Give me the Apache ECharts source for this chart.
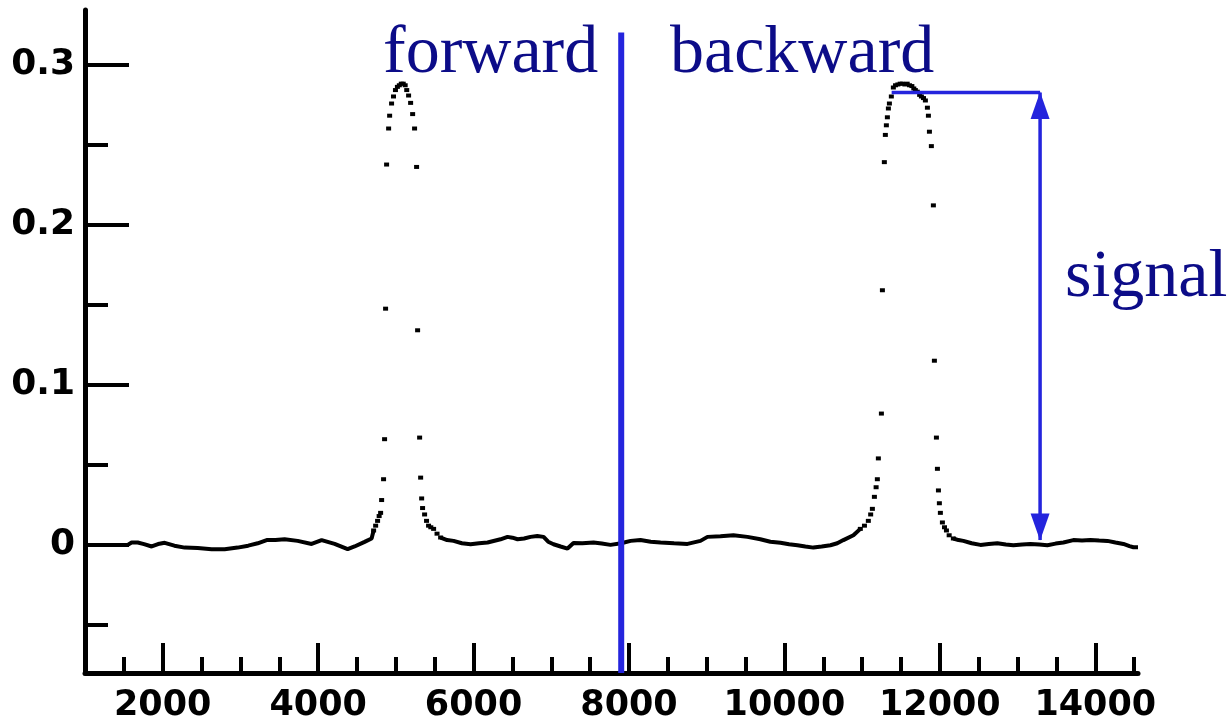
<!DOCTYPE html>
<html style="height: 100%">
    <head>
        <title>forward / backward scan</title>
        <meta charset="utf-8">
    </head>
    <body style="height: 100%; margin: 0; background: #fff">
        <div id="container" style="height: 100%"></div>

        <script type="text/javascript" src="https://cdn.jsdelivr.net/npm/echarts@6.0.0/dist/echarts.min.js"></script>
        <script type="text/javascript">
            // tick positions
            var xMajorTicks = [2000, 4000, 6000, 8000, 10000, 12000, 14000];
            var xMinorTicks = [1500, 2500, 3000, 3500, 4500, 5000, 5500, 6500, 7000, 7500, 8500, 9000, 9500,
                10500, 11000, 11500, 12500, 13000, 13500, 14500];
            var yMajorTicks = [0, 0.1, 0.2, 0.3];
            var yMinorTicks = [-0.05, 0.05, 0.15, 0.25];

            // baseline stretches (dense, drawn as a jagged line)
            var base1 = [[1000, 0], [1550, 0], [1600, 0.0015], [1678, 0.0015], [1760, 0.0005], [1858, -0.001],
                [1940, 0.0005], [2026, 0.0013], [2150, -0.0005], [2283, -0.0017], [2450, -0.002], [2630, -0.0027],
                [2797, -0.0027], [2964, -0.0017], [3100, -0.0005], [3222, 0.001], [3338, 0.003], [3450, 0.003],
                [3569, 0.0035], [3736, 0.0025], [3916, 0.0006], [4045, 0.003], [4212, 0.0006], [4380, -0.0027],
                [4469, -0.001], [4598, 0.0019], [4688, 0.004], [4714, 0.009]];
            var base2 = [[5576, 0.0046], [5660, 0.003], [5743, 0.0025], [5850, 0.001], [5962, 0.0004], [6070, 0.001],
                [6180, 0.0015], [6347, 0.0035], [6437, 0.005], [6500, 0.0045], [6566, 0.0035], [6650, 0.004],
                [6733, 0.005], [6820, 0.0055], [6901, 0.005], [6960, 0.002], [7029, 0.0004], [7120, -0.001],
                [7209, -0.0023], [7286, 0.0012], [7400, 0.001], [7544, 0.0015], [7650, 0.0008], [7762, 0],
                [7900, 0.001], [8020, 0.0025], [8148, 0.003], [8280, 0.002], [8406, 0.0015], [8580, 0.001],
                [8753, 0.0006], [8920, 0.0025], [9010, 0.005], [9177, 0.0054], [9344, 0.006], [9524, 0.005],
                [9691, 0.0035], [9820, 0.002], [9949, 0.0013], [10060, 0.0004], [10167, -0.0002], [10270, -0.001],
                [10373, -0.0017], [10480, -0.001], [10592, -0.0002], [10680, 0.001], [10759, 0.003], [10888, 0.006],
                [10977, 0.01]];
            var base3 = [[12174, 0.004], [12240, 0.003], [12303, 0.0025], [12410, 0.001], [12522, 0], [12630, 0.0005],
                [12740, 0.001], [12850, 0.0002], [12946, -0.0002], [13060, 0.0003], [13165, 0.0006], [13280, 0.0002],
                [13384, -0.0002], [13490, 0.0008], [13590, 0.0015], [13718, 0.003], [13830, 0.0028], [13937, 0.003],
                [14050, 0.0027], [14156, 0.0025], [14260, 0.0015], [14362, 0.0006], [14440, -0.0008],
                [14491, -0.0015], [14550, -0.0015]];

            // peaks (sparse points)
            var peak1 = [[4714, 0.009], [4740, 0.012], [4765, 0.015], [4785, 0.018], [4804, 0.02], [4817, 0.028],
                [4842, 0.041], [4855, 0.066], [4868, 0.1475], [4881, 0.2375], [4907, 0.26], [4920, 0.268],
                [4945, 0.2756], [4970, 0.28], [4995, 0.284], [5020, 0.286], [5045, 0.287], [5070, 0.288],
                [5095, 0.288], [5120, 0.287], [5140, 0.284], [5164, 0.2806], [5190, 0.276], [5216, 0.269],
                [5241, 0.26], [5267, 0.236], [5280, 0.134], [5306, 0.067], [5319, 0.042], [5332, 0.029],
                [5344, 0.023], [5370, 0.019], [5395, 0.015], [5421, 0.012], [5450, 0.011], [5486, 0.01],
                [5530, 0.007], [5576, 0.0046]];
            var peak2 = [[10977, 0.01], [11030, 0.012], [11080, 0.015], [11110, 0.019], [11132, 0.0225],
                [11158, 0.03], [11180, 0.036], [11196, 0.041], [11209, 0.054], [11248, 0.082], [11261, 0.159],
                [11286, 0.239], [11299, 0.256], [11312, 0.262], [11325, 0.267], [11338, 0.2725], [11351, 0.2756],
                [11376, 0.28], [11402, 0.2856], [11430, 0.287], [11460, 0.2875], [11490, 0.288], [11520, 0.288],
                [11550, 0.2875], [11580, 0.288], [11610, 0.287], [11640, 0.2865], [11665, 0.285], [11685, 0.284],
                [11710, 0.283], [11740, 0.281], [11763, 0.28], [11790, 0.279], [11814, 0.2775], [11840, 0.273],
                [11853, 0.268], [11866, 0.258], [11891, 0.249], [11917, 0.212], [11930, 0.115], [11956, 0.067],
                [11969, 0.0475], [11982, 0.034], [11994, 0.026], [12007, 0.02], [12033, 0.014], [12060, 0.011],
                [12085, 0.009], [12120, 0.006], [12174, 0.004]];

            // annotations
            var dividerLine = [[7900, -0.08], [7900, 0.32]];
            var signalLevel = [[11380, 0.2825], [13290, 0.2825]];
            var signalArrow = [[13290, 0.2825], [13290, 0.003]];

            var blue = '#2424dd';
            var navy = '#0c0c88';
            var labelFont = { fontFamily: 'DejaVu Sans', fontWeight: 'bold', color: '#000' };
            var plain = function (v) { return String(v); };

            var dom = document.getElementById("container");
            var myChart = echarts.init(dom);

            function baseSeries(data) {
                return {
                    type: 'line', data: data, showSymbol: false, symbol: 'none',
                    lineStyle: { color: '#000', width: 4 }, z: 3
                };
            }
            function peakSeries(data) {
                return {
                    type: 'scatter', data: data, symbol: 'rect', symbolSize: [5, 4],
                    itemStyle: { color: '#000', opacity: 1 }, z: 3
                };
            }

            var option = {
                animation: false,
                grid: { left: 85, right: 91, top: 10, bottom: 52 },
                xAxis: [{
                    type: 'value', min: 1000, max: 14550,
                    axisLine: { onZero: false, lineStyle: { color: '#000', width: 5 } },
                    axisTick: { inside: true, length: 30, customValues: xMajorTicks, lineStyle: { color: '#000', width: 4 } },
                    axisLabel: Object.assign({ customValues: xMajorTicks, fontSize: 35, margin: 15, formatter: plain }, labelFont),
                    splitLine: { show: false }
                }, {
                    type: 'value', min: 1000, max: 14550, position: 'bottom',
                    axisLine: { show: false, onZero: false },
                    axisTick: { inside: true, length: 16, customValues: xMinorTicks, lineStyle: { color: '#000', width: 4 } },
                    axisLabel: { show: false },
                    splitLine: { show: false }
                }],
                yAxis: [{
                    type: 'value', min: -0.08, max: 0.334,
                    axisLine: { show: true, onZero: false, lineStyle: { color: '#000', width: 5 } },
                    axisTick: { show: true, inside: true, length: 44, customValues: yMajorTicks, lineStyle: { color: '#000', width: 4 } },
                    axisLabel: Object.assign({ customValues: yMajorTicks, fontSize: 36, margin: 10, formatter: plain }, labelFont),
                    splitLine: { show: false }
                }, {
                    type: 'value', min: -0.08, max: 0.334, position: 'left',
                    axisLine: { show: false, onZero: false },
                    axisTick: { show: true, inside: true, length: 23, customValues: yMinorTicks, lineStyle: { color: '#000', width: 4 } },
                    axisLabel: { show: false },
                    splitLine: { show: false }
                }],
                series: [
                    baseSeries(base1), baseSeries(base2), baseSeries(base3),
                    peakSeries(peak1), peakSeries(peak2),
                    {
                        type: 'line', data: dividerLine, symbol: 'none',
                        lineStyle: { color: blue, width: 6 }, z: 4
                    },
                    {
                        type: 'line', data: signalLevel, symbol: 'none',
                        lineStyle: { color: blue, width: 3.5 }, z: 4
                    },
                    {
                        type: 'line', data: signalArrow, symbol: 'none',
                        lineStyle: { color: blue, width: 3.5 }, z: 4
                    },
                    {
                        type: 'scatter', z: 5, symbol: 'triangle', symbolSize: [19, 27],
                        itemStyle: { color: blue, opacity: 1 },
                        data: [
                            { value: signalArrow[0], symbolOffset: [0, 13] },
                            { value: signalArrow[1], symbolRotate: 180, symbolOffset: [0, -13] }
                        ]
                    }
                ],
                graphic: [
                    { type: 'text', left: 383, top: 20, style: { text: 'forward', font: '68px "Liberation Serif"', fill: navy } },
                    { type: 'text', left: 670, top: 20, style: { text: 'backward', font: '68px "Liberation Serif"', fill: navy } },
                    { type: 'text', left: 1065, top: 244, style: { text: 'signal', font: '68px "Liberation Serif"', fill: navy } }
                ]
            };

            myChart.setOption(option);
            window.onresize = function () {
                myChart.resize();
            };
        </script>
    </body>
</html>
